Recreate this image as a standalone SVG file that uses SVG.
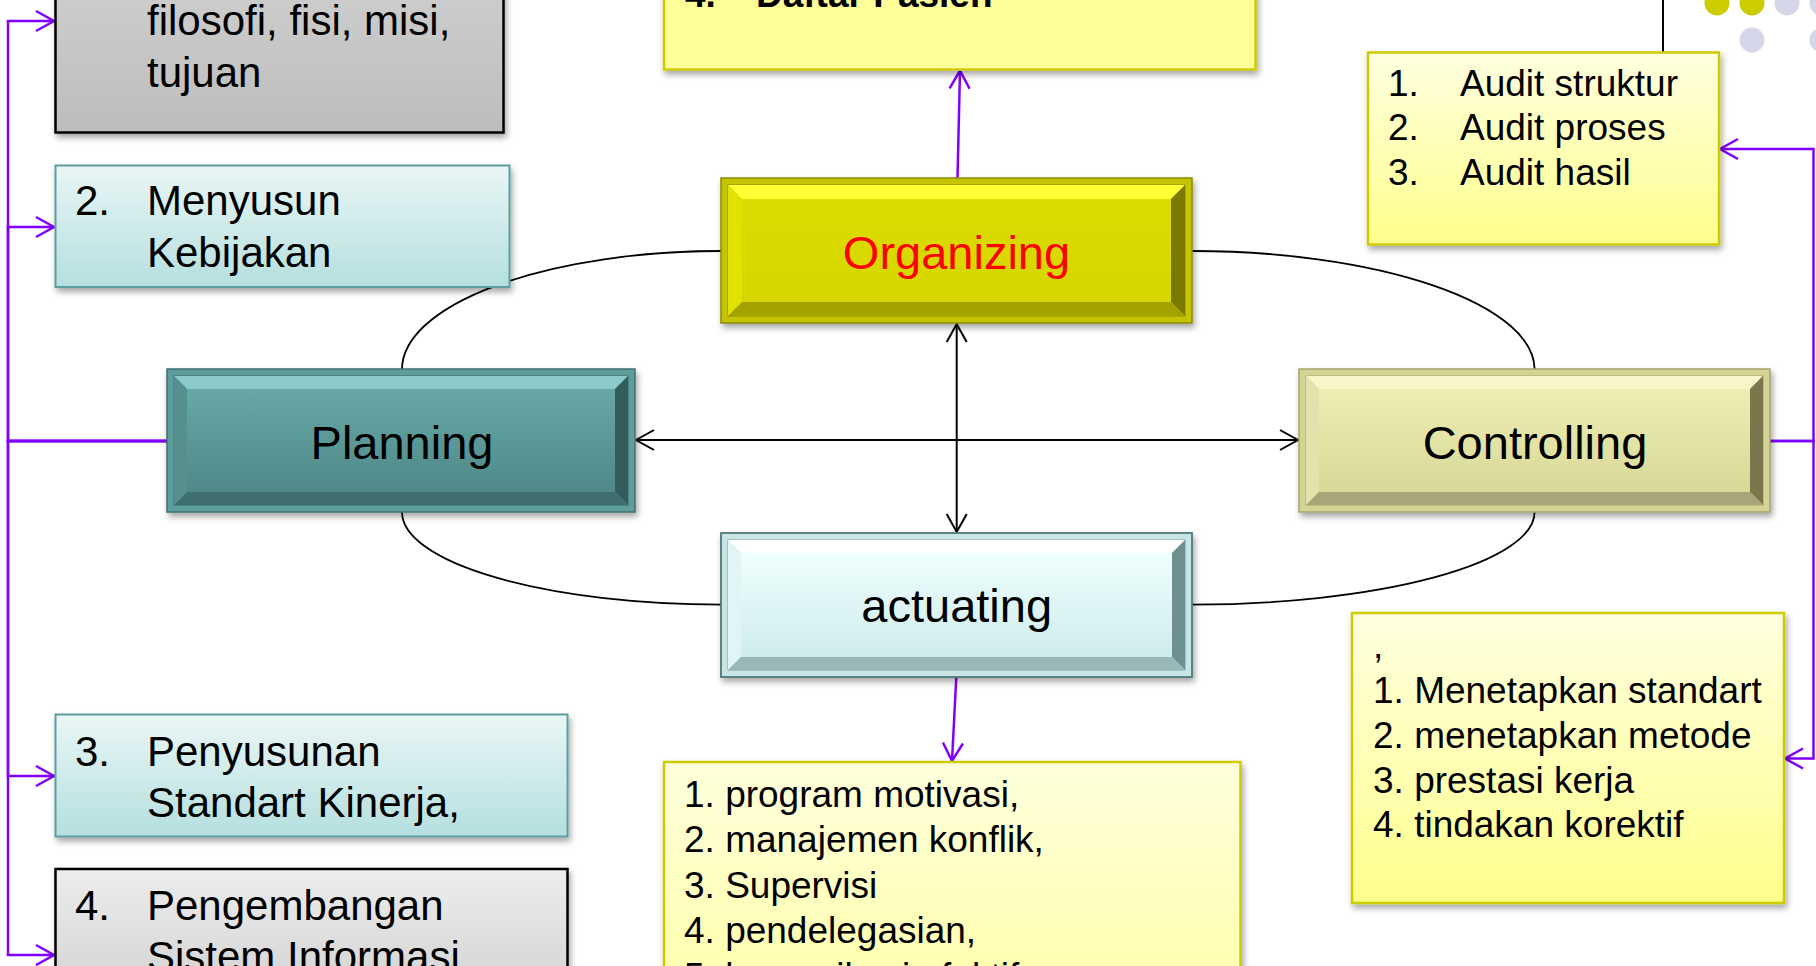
<svg xmlns="http://www.w3.org/2000/svg" width="1816" height="966" viewBox="0 0 1816 966">
<defs>
<style>
.t{font-family:"Liberation Sans",Arial,sans-serif;fill:#000}
.lt{font-size:42px}
.yt{font-size:37px}
.nt{font-size:47px;text-anchor:middle}
.pc{fill:none;stroke:#8000FF;stroke-width:2.5}
.bc{fill:none;stroke:#000;stroke-width:2}
.arc{fill:none;stroke:#000;stroke-width:1.8}
</style>
<filter id="sh" x="-5%" y="-10%" width="115%" height="130%">
<feDropShadow dx="2" dy="4" stdDeviation="3" flood-color="#000" flood-opacity="0.35"/>
</filter>
<marker id="pa" markerUnits="userSpaceOnUse" markerWidth="24" markerHeight="24" viewBox="0 0 24 24" refX="21" refY="12" orient="auto-start-reverse">
<path d="M3,2 L21,12 L3,22" fill="none" stroke="#8000FF" stroke-width="2.5"/>
</marker>
<marker id="ba" markerUnits="userSpaceOnUse" markerWidth="24" markerHeight="24" viewBox="0 0 24 24" refX="21" refY="12" orient="auto-start-reverse">
<path d="M3,2 L21,12 L3,22" fill="none" stroke="#000" stroke-width="2"/>
</marker>
<linearGradient id="gGray" x1="0" y1="0" x2="0" y2="1"><stop offset="0" stop-color="#E2E2E2"/><stop offset="1" stop-color="#BDBDBD"/></linearGradient>
<linearGradient id="gCyan" x1="0" y1="0" x2="0" y2="1"><stop offset="0" stop-color="#EAF6F6"/><stop offset="1" stop-color="#B5DFDF"/></linearGradient>
<linearGradient id="gYel" x1="0" y1="0" x2="0" y2="1"><stop offset="0" stop-color="#FFFFE0"/><stop offset="1" stop-color="#FFFF8C"/></linearGradient>
<linearGradient id="gYelB" gradientUnits="userSpaceOnUse" x1="0" y1="762" x2="0" y2="1150"><stop offset="0" stop-color="#FFFFDC"/><stop offset="1" stop-color="#FFFF8C"/></linearGradient>
<linearGradient id="gGray4" gradientUnits="userSpaceOnUse" x1="0" y1="869" x2="0" y2="1100"><stop offset="0" stop-color="#EDEDED"/><stop offset="1" stop-color="#BDBDBD"/></linearGradient>
<linearGradient id="fPlan" x1="0" y1="0" x2="0" y2="1"><stop offset="0" stop-color="#67A8A8"/><stop offset="1" stop-color="#508888"/></linearGradient>
<linearGradient id="fOrg" x1="0" y1="0" x2="0" y2="1"><stop offset="0" stop-color="#DCDC00"/><stop offset="1" stop-color="#D6D600"/></linearGradient>
<linearGradient id="fCon" x1="0" y1="0" x2="0" y2="1"><stop offset="0" stop-color="#EEEEB4"/><stop offset="1" stop-color="#D8D898"/></linearGradient>
<linearGradient id="fAct" x1="0" y1="0" x2="0" y2="1"><stop offset="0" stop-color="#EFFFFF"/><stop offset="1" stop-color="#CFEBEB"/></linearGradient>
</defs>
<rect width="1816" height="966" fill="#FFFFFF"/>

<!-- decorative dots -->
<g id="dots">
<circle cx="1717" cy="3" r="12.5" fill="#CCCC00"/>
<circle cx="1752" cy="3" r="12.5" fill="#CCCC00"/>
<circle cx="1787" cy="3" r="12.5" fill="#D6D6EA"/>
<circle cx="1822" cy="3" r="12.5" fill="#D6D6EA"/>
<circle cx="1752" cy="40" r="12.5" fill="#D6D6EA"/>
<circle cx="1822" cy="40" r="12.5" fill="#D6D6EA"/>
</g>

<!-- connectors -->
<g id="connectors">
<path class="arc" d="M402,369 A319.6,118.5 0 0 1 721.6,251"/>
<path class="arc" d="M1191.8,251 A342.8,118.5 0 0 1 1534.6,369"/>
<path class="arc" d="M1534.6,512 A342.8,92.6 0 0 1 1191.8,604.6"/>
<path class="arc" d="M721.6,604.6 A319.6,92.6 0 0 1 402,512"/>
<path class="bc" d="M636,440 H1298" marker-start="url(#ba)" marker-end="url(#ba)"/>
<path class="bc" d="M956.7,324 V532" marker-start="url(#ba)" marker-end="url(#ba)"/>
<path class="bc" d="M1663,0 V53"/>
<path class="pc" d="M167,441 H8 V21 H54" marker-end="url(#pa)"/>
<path class="pc" d="M167,441 H8 V227 H54" marker-end="url(#pa)"/>
<path class="pc" d="M167,441 H8 V776 H54" marker-end="url(#pa)"/>
<path class="pc" d="M167,441 H8 V955 H54" marker-end="url(#pa)"/>
<path class="pc" d="M1770,441 H1813.5 V149 H1720" marker-end="url(#pa)"/>
<path class="pc" d="M1770,441 H1813.5 V758.5 H1785" marker-end="url(#pa)"/>
<path class="pc" d="M957.5,178 L960,70.5" marker-end="url(#pa)"/>
<path class="pc" d="M956.3,677 L952,761" marker-end="url(#pa)"/>
</g>

<!-- left text boxes -->
<g id="box-filosofi">
<rect x="55.5" y="-200" width="448" height="332.5" fill="url(#gGray)" stroke="#000" stroke-width="2.5" filter="url(#sh)"/>
<text class="t lt" x="147" y="35">filosofi, fisi, misi,</text>
<text class="t lt" x="147" y="87">tujuan</text>
</g>
<g id="box-kebijakan">
<rect x="55.5" y="165.5" width="454" height="121.5" fill="url(#gCyan)" stroke="#5F9EA0" stroke-width="2" filter="url(#sh)"/>
<text class="t lt" x="75" y="215">2.</text>
<text class="t lt" x="147" y="215">Menyusun</text>
<text class="t lt" x="147" y="267">Kebijakan</text>
</g>
<g id="box-standart">
<rect x="55.5" y="714.5" width="512" height="122" fill="url(#gCyan)" stroke="#5F9EA0" stroke-width="2" filter="url(#sh)"/>
<text class="t lt" x="75" y="766">3.</text>
<text class="t lt" x="147" y="766">Penyusunan</text>
<text class="t lt" x="147" y="817">Standart Kinerja,</text>
</g>
<g id="box-sistem">
<rect x="55.5" y="869" width="512" height="200" fill="url(#gGray4)" stroke="#000" stroke-width="2.5" filter="url(#sh)"/>
<text class="t lt" x="75" y="920">4.</text>
<text class="t lt" x="147" y="920">Pengembangan</text>
<text class="t lt" x="147" y="971">Sistem Informasi</text>
</g>

<!-- yellow boxes -->
<g id="box-pasien">
<rect x="664" y="-200" width="591.5" height="269.5" fill="#FFFF99" stroke="#CCCC00" stroke-width="2.5" filter="url(#sh)"/>
<text class="t yt" x="685" y="7" font-weight="bold">4.</text>
<text class="t yt" x="756" y="7" font-weight="bold">Daftar Pasien</text>
</g>
<g id="box-audit">
<rect x="1368" y="52.5" width="351" height="192" fill="url(#gYel)" stroke="#CCCC00" stroke-width="2.5" filter="url(#sh)"/>
<text class="t yt" x="1388" y="95.5">1.</text>
<text class="t yt" x="1460" y="95.5">Audit struktur</text>
<text class="t yt" x="1388" y="140">2.</text>
<text class="t yt" x="1460" y="140">Audit proses</text>
<text class="t yt" x="1388" y="184.5">3.</text>
<text class="t yt" x="1460" y="184.5">Audit hasil</text>
</g>
<g id="box-menetapkan">
<rect x="1352" y="613" width="432" height="290" fill="url(#gYel)" stroke="#CCCC00" stroke-width="2.5" filter="url(#sh)"/>
<text class="t yt" x="1373" y="658">,</text>
<text class="t yt" x="1373" y="703">1. Menetapkan standart</text>
<text class="t yt" x="1373" y="748">2. menetapkan metode</text>
<text class="t yt" x="1373" y="792.5">3. prestasi kerja</text>
<text class="t yt" x="1373" y="837">4. tindakan korektif</text>
</g>
<g id="box-motivasi">
<rect x="664" y="762" width="576.5" height="400" fill="url(#gYelB)" stroke="#CCCC00" stroke-width="2.5" filter="url(#sh)"/>
<text class="t yt" x="684" y="806.5">1. program motivasi,</text>
<text class="t yt" x="684" y="852">2. manajemen konflik,</text>
<text class="t yt" x="684" y="897.5">3. Supervisi</text>
<text class="t yt" x="684" y="943">4. pendelegasian,</text>
<text class="t yt" x="684" y="988.5">5. komunikasi efektif</text>
</g>

<!-- main bevel nodes -->
<g id="node-planning">
<rect x="167" y="369" width="468" height="143" fill="#5E9C9C" stroke="#3F7070" stroke-width="1.5" filter="url(#sh)"/>
<rect x="174" y="376" width="454" height="129" fill="none" stroke="#3E6B6B" stroke-width="1"/>
<polygon points="174,376 628,376 615,389 187,389" fill="#8CCBCB"/>
<polygon points="174,376 187,389 187,492 174,505" fill="#578F8F"/>
<polygon points="628,376 628,505 615,492 615,389" fill="#335C5C"/>
<polygon points="174,505 187,492 615,492 628,505" fill="#3F6E6E"/>
<rect x="187" y="389" width="428" height="103" fill="url(#fPlan)"/>
<text class="t nt" x="402" y="458.5">Planning</text>
</g>
<g id="node-organizing">
<rect x="721" y="178" width="471" height="145" fill="#C4C400" stroke="#8A8A00" stroke-width="1.5" filter="url(#sh)"/>
<rect x="728" y="185" width="457" height="131" fill="none" stroke="#8A8A00" stroke-width="1"/>
<polygon points="728,185 1185,185 1171,199 742,199" fill="#FFFF33"/>
<polygon points="728,185 742,199 742,302 728,316" fill="#E2E200"/>
<polygon points="1185,185 1185,316 1171,302 1171,199" fill="#7A7A00"/>
<polygon points="728,316 742,302 1171,302 1185,316" fill="#A3A300"/>
<rect x="742" y="199" width="429" height="103" fill="url(#fOrg)"/>
<text class="t nt" x="956.5" y="268.5" style="fill:#FF0000">Organizing</text>
</g>
<g id="node-controlling">
<rect x="1299" y="369" width="471" height="143" fill="#D4D496" stroke="#A5A56E" stroke-width="1.5" filter="url(#sh)"/>
<rect x="1306" y="376" width="457" height="129" fill="none" stroke="#A5A56E" stroke-width="1"/>
<polygon points="1306,376 1763,376 1750,389 1319,389" fill="#F6F6C8"/>
<polygon points="1306,376 1319,389 1319,492 1306,505" fill="#E2E2AC"/>
<polygon points="1763,376 1763,505 1750,492 1750,389" fill="#78784C"/>
<polygon points="1306,505 1319,492 1750,492 1763,505" fill="#A6A676"/>
<rect x="1319" y="389" width="431" height="103" fill="url(#fCon)"/>
<text class="t nt" x="1535" y="458.5">Controlling</text>
</g>
<g id="node-actuating">
<rect x="721" y="533" width="471" height="144" fill="#C8E4E4" stroke="#4F7878" stroke-width="1.8" filter="url(#sh)"/>
<rect x="728" y="540" width="457" height="130" fill="none" stroke="#7FA3A3" stroke-width="1"/>
<polygon points="728,540 1185,540 1172,553 741,553" fill="#FFFFFF"/>
<polygon points="728,540 741,553 741,657 728,670" fill="#E2F5F5"/>
<polygon points="1185,540 1185,670 1172,657 1172,553" fill="#6E9090"/>
<polygon points="728,670 741,657 1172,657 1185,670" fill="#98B8B8"/>
<rect x="741" y="553" width="431" height="104" fill="url(#fAct)"/>
<text class="t nt" x="956.7" y="622">actuating</text>
</g>
</svg>
